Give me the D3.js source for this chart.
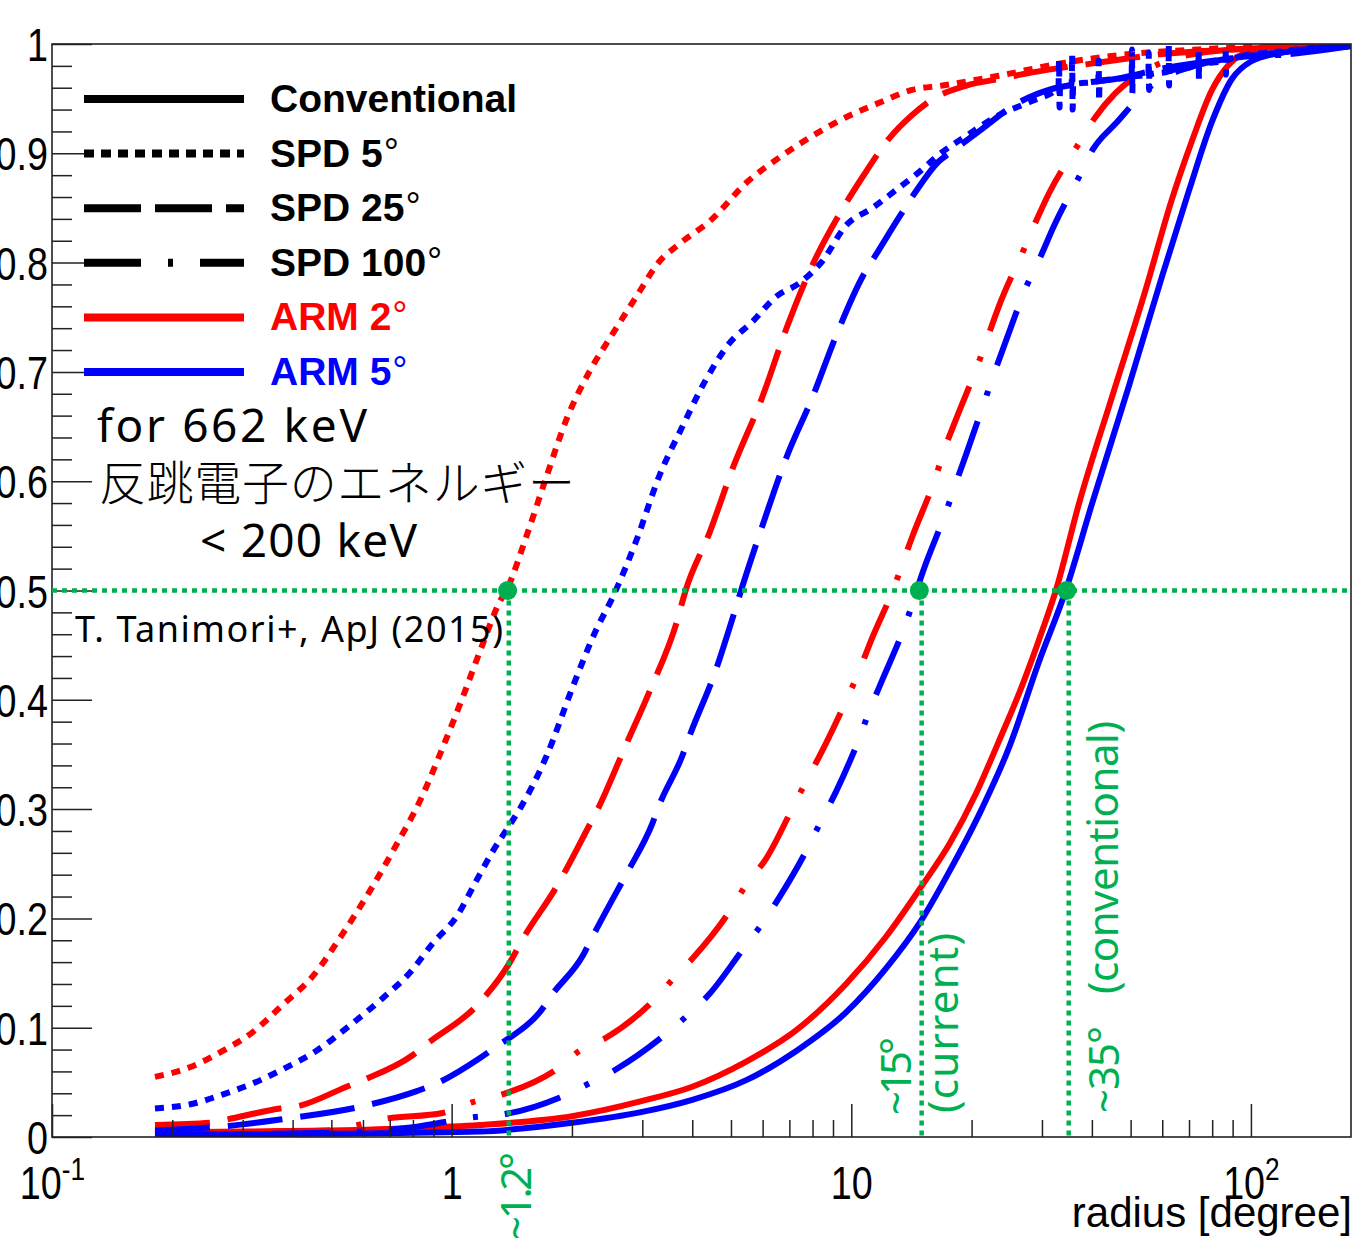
<!DOCTYPE html>
<html>
<head>
<meta charset="utf-8">
<script src="https://cdn.jsdelivr.net/npm/d3@7"></script>
<style>
  html, body { margin: 0; padding: 0; background: #fff; }
  svg { display: block; }
</style>
</head>
<body>
<svg id="chart" width="1354" height="1242"></svg>
<script>
// ---- Cumulative fraction vs. radius [degree] -------------------------------
// Each series: [radius (deg), cumulative fraction]

// Conventional (solid)
const conventionalArm2 = [
  [0.181,0.004],[0.3,0.005],[0.5,0.006],[0.8,0.008],[1.175,0.011],[2.0,0.019],
  [3.0,0.033],[4.0,0.046],[5.46,0.069],[7.3,0.098],[9.7,0.140],[12.2,0.183],
  [14.9,0.228],[17.6,0.268],[20.5,0.314],[23.4,0.362],[26.7,0.412],[30.1,0.464],
  [32.5,0.500],[37.1,0.579],[44.9,0.677],[54.5,0.775],[63.3,0.857],[71.3,0.912],
  [79.9,0.958],[88,0.981],[100,0.994],[119,0.998],[178,1.0]
];
const conventionalArm5 = [
  [0.181,0.002],[0.5,0.003],[1.175,0.005],[2.0,0.013],[3.0,0.023],[4.0,0.034],
  [5.46,0.052],[7.3,0.079],[9.7,0.114],[12.2,0.154],[14.9,0.197],[17.6,0.243],
  [21.2,0.300],[24.8,0.356],[29.5,0.435],[34.4,0.500],[40.0,0.579],[49.5,0.687],
  [60,0.788],[70,0.866],[79.9,0.929],[89.6,0.968],[100,0.984],[119,0.992],
  [145,0.996],[178,0.999]
];

// SPD 5 deg (dotted)
const spd5Arm2 = [
  [0.181,0.055],[0.222,0.064],[0.268,0.079],[0.318,0.096],[0.378,0.121],[0.449,0.147],
  [0.534,0.186],[0.624,0.225],[0.729,0.268],[0.832,0.307],[0.949,0.356],[1.065,0.402],
  [1.196,0.451],[1.32,0.490],[1.37,0.500],[1.54,0.550],[1.73,0.605],[1.94,0.657],
  [2.21,0.700],[2.53,0.735],[2.90,0.769],[3.31,0.801],[3.71,0.817],[4.49,0.840],
  [5.46,0.873],[6.6,0.896],[8.0,0.916],[9.7,0.933],[11.7,0.946],[14.2,0.958],
  [16.9,0.962],[23.4,0.971],[34.3,0.983],[50.4,0.991],[74,0.995],[109,0.998],[178,0.999]
];
const spd5Arm5 = [
  [0.181,0.026],[0.222,0.030],[0.268,0.039],[0.318,0.049],[0.378,0.062],[0.459,0.079],
  [0.556,0.102],[0.672,0.127],[0.785,0.150],[0.896,0.177],[1.03,0.202],[1.155,0.235],
  [1.27,0.262],[1.40,0.286],[1.48,0.300],[1.73,0.349],[2.01,0.412],[2.30,0.464],
  [2.53,0.494],[2.90,0.546],[3.31,0.605],[3.78,0.650],[4.33,0.693],[4.95,0.726],
  [5.66,0.746],[6.49,0.769],[7.4,0.781],[8.45,0.801],[9.7,0.834],[11.3,0.850],
  [12.9,0.866],[14.8,0.883],[16.6,0.899],[19.4,0.916],[23.4,0.935],[28.4,0.948],
  [33.0,0.960],[33.1,0.985],[33.2,0.942],[33.3,0.960],
  [35.6,0.963],[35.7,0.990],[35.8,0.940],[35.9,0.963],
  [41.5,0.966],[41.6,0.985],[41.7,0.948],[41.8,0.966],
  [50.3,0.970],[50.4,0.995],[50.5,0.955],[50.6,0.970],
  [55.4,0.972],[55.5,0.992],[55.6,0.958],[55.7,0.972],
  [62.2,0.975],[62.3,0.999],[62.4,0.962],[62.5,0.975],
  [73.9,0.981],[74.0,0.995],[74.1,0.968],[74.2,0.981],
  [86.4,0.985],[86.5,0.996],[86.6,0.972],[86.7,0.985],
  [109,0.992],[116.9,0.993],[117.0,0.984],[117.1,0.993],[178,0.998]
];

// SPD 25 deg (dashed)
const spd25Arm2 = [
  [0.181,0.011],[0.249,0.013],[0.274,0.016],[0.372,0.026],[0.41,0.028],[0.546,0.046],
  [0.60,0.052],[0.80,0.075],[0.866,0.085],[1.175,0.123],[1.40,0.160],[1.50,0.180],
  [1.83,0.229],[2.21,0.285],[2.30,0.297],[2.74,0.360],[3.13,0.408],[3.65,0.470],
  [3.85,0.500],[4.42,0.553],[5.04,0.611],[5.99,0.677],[6.87,0.739],[8.0,0.798],
  [9.33,0.844],[10.7,0.879],[12.4,0.913],[14.2,0.935],[15.9,0.949],[19.4,0.962],
  [23.4,0.968],[28.4,0.974],[41.6,0.983],[61,0.991],[89.6,0.995],[178,0.999]
];
const spd25Arm5 = [
  [0.181,0.006],[0.274,0.010],[0.372,0.016],[0.613,0.029],[0.818,0.042],[0.917,0.049],
  [1.175,0.072],[1.32,0.085],[1.40,0.091],[1.66,0.114],[1.79,0.131],[2.13,0.166],
  [2.25,0.183],[2.63,0.229],[2.78,0.245],[3.18,0.287],[3.31,0.304],[3.78,0.349],
  [3.93,0.366],[4.59,0.428],[5.04,0.474],[5.3,0.500],[5.99,0.559],[6.87,0.621],
  [8.0,0.677],[9.16,0.733],[10.7,0.788],[11.7,0.811],[13.2,0.842],[14.5,0.865],
  [16.6,0.893],[17.6,0.900],[21.2,0.922],[25.8,0.945],[31.2,0.958],[37.8,0.964],
  [45.8,0.968],[61,0.978],[89.6,0.987],[132,0.994],[178,0.998]
];

// SPD 100 deg (dash-dot)
const spd100Arm2 = [
  [0.181,0.003],[0.36,0.005],[0.49,0.006],[0.69,0.017],[0.95,0.022],[1.13,0.032],
  [1.34,0.039],[1.83,0.062],[2.09,0.079],[2.44,0.091],[3.18,0.124],[3.57,0.144],
  [4.0,0.163],[4.95,0.206],[5.46,0.231],[6.13,0.255],[7.13,0.301],[7.7,0.325],
  [8.45,0.353],[9.7,0.399],[10.4,0.424],[11.2,0.454],[12.7,0.500],[14.2,0.549],
  [16.3,0.605],[17.1,0.629],[18.3,0.657],[20.9,0.710],[22.1,0.735],[23.4,0.760],
  [27.1,0.813],[29.0,0.838],[31.2,0.863],[37.1,0.909],[40.8,0.933],[45.8,0.955],
  [50.4,0.968],[61,0.984],[89.6,0.995],[178,0.999]
];
const spd100Arm5 = [
  [0.181,0.002],[0.5,0.004],[0.8,0.009],[1.13,0.018],[1.36,0.021],[1.86,0.036],
  [2.18,0.048],[2.58,0.062],[3.35,0.091],[3.83,0.109],[4.42,0.131],[5.34,0.171],
  [5.95,0.194],[6.6,0.219],[7.77,0.264],[8.4,0.289],[9.16,0.316],[10.5,0.366],
  [11.1,0.390],[11.95,0.418],[13.6,0.467],[15.2,0.520],[17.3,0.573],[18.3,0.599],
  [19.4,0.625],[21.5,0.672],[23.0,0.703],[24.3,0.727],[27.5,0.779],[29.8,0.806],
  [32.1,0.833],[37.1,0.878],[40.3,0.904],[45.8,0.927],[56.4,0.962],[74,0.981],
  [89.6,0.987],[127,0.991],[178,0.998]
];

// Axis ticks
const yMajorTicks = [0, 0.1, 0.2, 0.3, 0.4, 0.5, 0.6, 0.7, 0.8, 0.9, 1];
const yMinorTicks = [0.02,0.04,0.06,0.08,0.12,0.14,0.16,0.18,0.22,0.24,0.26,0.28,
  0.32,0.34,0.36,0.38,0.42,0.44,0.46,0.48,0.52,0.54,0.56,0.58,0.62,0.64,0.66,0.68,
  0.72,0.74,0.76,0.78,0.82,0.84,0.86,0.88,0.92,0.94,0.96,0.98];
const xMajorTicks = [0.1, 1, 10, 100];
const xMajorLabels = [["10","-1"], ["1",""], ["10",""], ["10","2"]];
const xMinorTicks = [0.2,0.3,0.4,0.5,0.6,0.7,0.8,0.9, 2,3,4,5,6,7,8,9, 20,30,40,50,60,70,80,90];

// Legend
const legendLabels = ["Conventional", "SPD 5", "SPD 25", "SPD 100", "ARM 2", "ARM 5"];
const legendDegree = [false, true, true, true, true, true];

// Half-containment reference markers (radius at fraction 0.5)
const markerRadii = [1.38, 14.8, 34.6];
const markerLineRadii = [1.39, 15.0, 35.0];
const markerFraction = 0.5;

// ---------------------------------------------------------------------------
const RED = "#ff0000", BLUE = "#0000ff", GREEN = "#00b050";
const svg = d3.select("#chart");
const plotL = 52, plotR = 1351, plotT = 44, plotB = 1137;

const x = d3.scaleLog().domain([0.1, 178]).range([plotL, plotR]);
const y = d3.scaleLinear().domain([0, 1]).range([plotB, plotT]);

svg.append("defs").append("clipPath").attr("id", "plotClip")
  .append("rect").attr("x", plotL).attr("y", plotT)
  .attr("width", plotR - plotL).attr("height", plotB - plotT);

// Curves
const DOT = "9,8", DASH = "55,18", DASHDOT = "58,27,5,27";
const curves = [
  { data: conventionalArm2, color: RED,  dash: null },
  { data: spd5Arm2,         color: RED,  dash: DOT },
  { data: spd25Arm2,        color: RED,  dash: DASH },
  { data: spd100Arm2,       color: RED,  dash: DASHDOT },
  { data: conventionalArm5, color: BLUE, dash: null },
  { data: spd5Arm5,         color: BLUE, dash: DOT },
  { data: spd25Arm5,        color: BLUE, dash: DASH },
  { data: spd100Arm5,       color: BLUE, dash: DASHDOT }
];
const line = d3.line().x(d => x(d[0])).y(d => y(d[1])).curve(d3.curveMonotoneX);

const gCurves = svg.append("g").attr("clip-path", "url(#plotClip)");
gCurves.selectAll("path").data(curves).join("path")
  .attr("d", c => line(c.data))
  .attr("fill", "none")
  .attr("stroke", c => c.color)
  .attr("stroke-width", 6)
  .attr("stroke-linejoin", "round")
  .attr("stroke-dasharray", c => c.dash);

// Frame
svg.append("rect").attr("x", plotL).attr("y", plotT)
  .attr("width", plotR - plotL).attr("height", plotB - plotT)
  .attr("fill", "none").attr("stroke", "#222").attr("stroke-width", 1.6);

// Y axis (ticks pointing inward)
const tickFont = "'Liberation Sans', Arial, Helvetica, sans-serif";
const yAxisMajor = svg.append("g").attr("transform", `translate(${plotL},0)`)
  .call(d3.axisLeft(y).tickValues(yMajorTicks).tickSize(-40).tickPadding(5)
    .tickFormat(d => d === 0 ? "0" : d === 1 ? "1" : d3.format(".1f")(d)));
const yAxisMinor = svg.append("g").attr("transform", `translate(${plotL},0)`)
  .call(d3.axisLeft(y).tickValues(yMinorTicks).tickSize(-20).tickFormat(""));

// X axis (ticks pointing inward)
const xAxisMajor = svg.append("g").attr("transform", `translate(0,${plotB})`)
  .call(d3.axisBottom(x).tickValues(xMajorTicks).tickSize(-33).tickPadding(29)
    .tickFormat(() => ""));
const xAxisMinor = svg.append("g").attr("transform", `translate(0,${plotB})`)
  .call(d3.axisBottom(x).tickValues(xMinorTicks).tickSize(-17).tickFormat(""));

[yAxisMajor, yAxisMinor, xAxisMajor, xAxisMinor].forEach(g => {
  g.select(".domain").remove();
  g.selectAll(".tick line").attr("stroke", "#222").attr("stroke-width", 1.5);
});

yAxisMajor.selectAll(".tick text")
  .attr("font-family", tickFont).attr("font-size", 46).attr("fill", "#000")
  .attr("dy", "0.36em")
  .attr("transform", "scale(0.82,1)");

xAxisMajor.selectAll(".tick text")
  .attr("font-family", tickFont).attr("font-size", 46).attr("fill", "#000")
  .attr("transform", "scale(0.82,1)")
  .each(function(d, i) {
    const t = d3.select(this);
    const [base, sup] = xMajorLabels[i];
    t.text(null);
    t.append("tspan").text(base);
    if (sup) t.append("tspan").attr("font-size", 32).attr("dy", -19).text(sup);
  });

// Axis title
svg.append("text").attr("x", 1352).attr("y", 1227)
  .attr("text-anchor", "end").attr("font-family", tickFont)
  .attr("font-size", 42).attr("fill", "#000").text("radius [degree]");

// Half-fraction guide lines and markers
const gGuide = svg.append("g");
gGuide.append("line")
  .attr("x1", plotL).attr("x2", plotR)
  .attr("y1", y(markerFraction)).attr("y2", y(markerFraction))
  .attr("stroke", GREEN).attr("stroke-width", 4.5).attr("stroke-dasharray", "5,5");
gGuide.selectAll("line.v").data(markerLineRadii).join("line").attr("class", "v")
  .attr("x1", d => x(d)).attr("x2", d => x(d))
  .attr("y1", y(markerFraction)).attr("y2", plotB)
  .attr("stroke", GREEN).attr("stroke-width", 4.5).attr("stroke-dasharray", "5,5");
gGuide.selectAll("circle").data(markerRadii).join("circle")
  .attr("cx", d => x(d)).attr("cy", y(markerFraction)).attr("r", 9.5)
  .attr("fill", GREEN);

// Legend
const legendStyles = [
  { color: "#000", dash: null },
  { color: "#000", dash: "10,7" },
  { color: "#000", dash: "57,14" },
  { color: "#000", dash: "57,27,5,27" },
  { color: RED,    dash: null },
  { color: BLUE,   dash: null }
];
const legendRowY = d3.scaleLinear().domain([0, 5]).range([99, 372]);
const legend = svg.append("g");
const rows = legend.selectAll("g").data(legendLabels).join("g")
  .attr("transform", (d, i) => `translate(0,${legendRowY(i)})`);
rows.append("line").attr("x1", 84).attr("x2", 244)
  .attr("stroke", (d, i) => legendStyles[i].color)
  .attr("stroke-width", 8)
  .attr("stroke-dasharray", (d, i) => legendStyles[i].dash);
rows.append("text").attr("x", 270).attr("y", 13)
  .attr("font-family", tickFont).attr("font-weight", "bold").attr("font-size", 39)
  .attr("fill", (d, i) => legendStyles[i].color)
  .each(function(d, i) {
    const t = d3.select(this);
    t.append("tspan").text(d);
    if (legendDegree[i]) t.append("tspan").attr("font-weight", "normal")
      .attr("font-size", 38).attr("dx", 1).attr("dy", -2).text("°");
  });

// Annotation text
const noteFont = "'Noto Sans', 'Noto Sans CJK JP', sans-serif";
const jpFont = "'Noto Sans CJK JP', sans-serif";
svg.append("text").attr("x", 97).attr("y", 442)
  .attr("font-family", noteFont).attr("font-size", 46).attr("fill", "#000")
  .attr("textLength", 270).text("for 662 keV");
svg.append("text").attr("x", 99).attr("y", 500)
  .attr("font-family", jpFont).attr("font-size", 47).attr("font-weight", 300)
  .attr("fill", "#000").attr("textLength", 476).text("反跳電子のエネルギー");
svg.append("text").attr("x", 200).attr("y", 557)
  .attr("font-family", noteFont).attr("font-size", 46).attr("fill", "#000")
  .attr("textLength", 217).text("< 200 keV");
svg.append("text").attr("x", 75).attr("y", 642)
  .attr("font-family", noteFont).attr("font-size", 36).attr("fill", "#000")
  .attr("textLength", 428).text("T. Tanimori+, ApJ (2015)");

// Rotated green labels
const greenLabels = [
  { text: "~1.2°",          x: 531,  y: 1240, len: 88 },
  { text: "~15°",           x: 911,  y: 1115, len: 78 },
  { text: "(current)",      x: 958,  y: 1113, len: 180 },
  { text: "~35°",           x: 1119, y: 1113, len: 87 },
  { text: "(conventional)", x: 1118, y: 994,  len: 273 }
];
svg.selectAll("text.green").data(greenLabels).join("text").attr("class", "green")
  .attr("transform", d => `translate(${d.x},${d.y}) rotate(-90)`)
  .attr("font-family", noteFont).attr("font-size", 42).attr("fill", GREEN)
  .attr("textLength", d => d.len)
  .text(d => d.text);
</script>
</body>
</html>
